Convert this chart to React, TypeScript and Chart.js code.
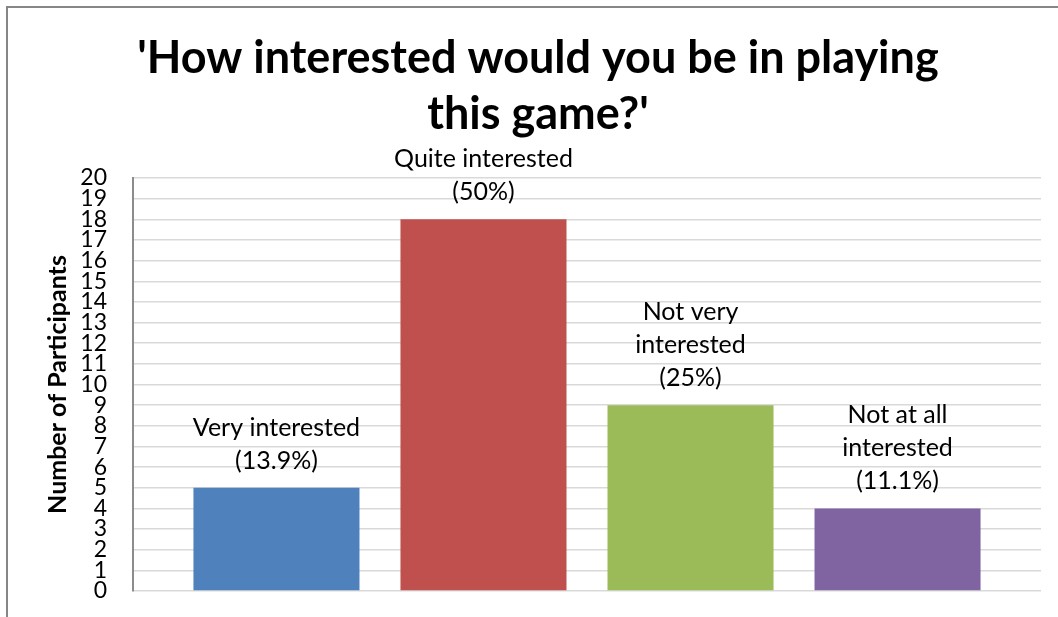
import React, { useEffect, useRef } from 'react';
import { Chart, registerables } from 'chart.js';

Chart.register(...registerables);

const titleLines = ["'How interested would you be in playing", "this game?'"];
const yAxisTitle = 'Number of Participants';
const categories = ['Very interested', 'Quite interested', 'Not very interested', 'Not at all interested'];
const values = [5, 18, 9, 4];
const percents = ['13.9%', '50%', '25%', '11.1%'];
const labelLines = [
  ['Very interested', '(13.9%)'],
  ['Quite interested', '(50%)'],
  ['Not very', 'interested', '(25%)'],
  ['Not at all', 'interested', '(11.1%)'],
];
const colors = ['#4F81BD', '#C0504D', '#9BBB59', '#8064A2'];
const yMin = 0;
const yMax = 20;
const yStep = 1;

const FONT = 'Lato';

const decor = {
  id: 'decor',
  beforeDraw(chart: any) {
    const { ctx } = chart;
    ctx.save();
    ctx.fillStyle = '#ffffff';
    ctx.fillRect(0, 0, chart.width, chart.height);
    ctx.strokeStyle = '#868686';
    ctx.lineWidth = 2;
    ctx.beginPath();
    ctx.moveTo(7, chart.height + 5);
    ctx.lineTo(7, 7);
    ctx.lineTo(chart.width + 5, 7);
    ctx.stroke();
    ctx.fillStyle = '#000000';
    ctx.font = `bold 45px ${FONT}`;
    ctx.textAlign = 'center';
    ctx.textBaseline = 'alphabetic';
    titleLines.forEach((t, i) => ctx.fillText(t, 538, 73 + i * 56));
    ctx.restore();
  },
  afterDatasetsDraw(chart: any) {
    const { ctx } = chart;
    ctx.save();
    ctx.fillStyle = '#000000';
    ctx.font = `25px ${FONT}`;
    ctx.textAlign = 'center';
    ctx.textBaseline = 'middle';
    chart.data.datasets.forEach((_: any, i: number) => {
      const bar = chart.getDatasetMeta(i).data[0];
      const lines = labelLines[i];
      const n = lines.length;
      lines.forEach((l, j) => {
        ctx.fillText(l, bar.x, bar.y - 27 - (n - 1 - j) * 33);
      });
    });
    ctx.restore();
  },
};

export default function App() {
  const ref = useRef<HTMLCanvasElement>(null);
  useEffect(() => {
    if (!ref.current) return;
    const chart = new Chart(ref.current, {
      type: 'bar',
      data: {
        labels: [''],
        datasets: categories.map((c, i) => ({
          label: `${c} (${percents[i]})`,
          data: [values[i]],
          backgroundColor: colors[i],
          borderWidth: 0,
          categoryPercentage: 0.912,
          barPercentage: 0.802,
        })),
      },
      options: {
        responsive: false,
        animation: false,
        layout: { padding: { top: 178, right: 17, bottom: 26, left: 0 } },
        plugins: {
          legend: { display: false },
          tooltip: { enabled: false },
          title: { display: false },
        },
        scales: {
          x: { display: false },
          y: {
            min: yMin,
            max: yMax,
            ticks: {
              stepSize: yStep,
              autoSkip: false,
              color: '#000000',
              padding: 0,
              font: { family: FONT, size: 23 },
            },
            grid: {
              color: '#d9d9d9',
              lineWidth: 1.5,
              drawTicks: true,
              tickLength: 26,
              tickColor: 'rgba(0,0,0,0)',
            },
            border: { color: '#8c8c8c', width: 2 },
            title: {
              display: true,
              text: yAxisTitle,
              color: '#000000',
              font: { family: FONT, size: 25, weight: 'bold' },
              padding: { top: 43, bottom: 0 },
            },
            afterFit(scale: any) {
              scale.width = 133;
            },
          },
        },
      },
      plugins: [decor],
    });
    return () => chart.destroy();
  }, []);
  return (
    <div style={{ position: 'absolute', left: 0, top: 0, width: 1058, height: 617 }}>
      <canvas ref={ref} width={1058} height={617} style={{ display: 'block' }} />
    </div>
  );
}
